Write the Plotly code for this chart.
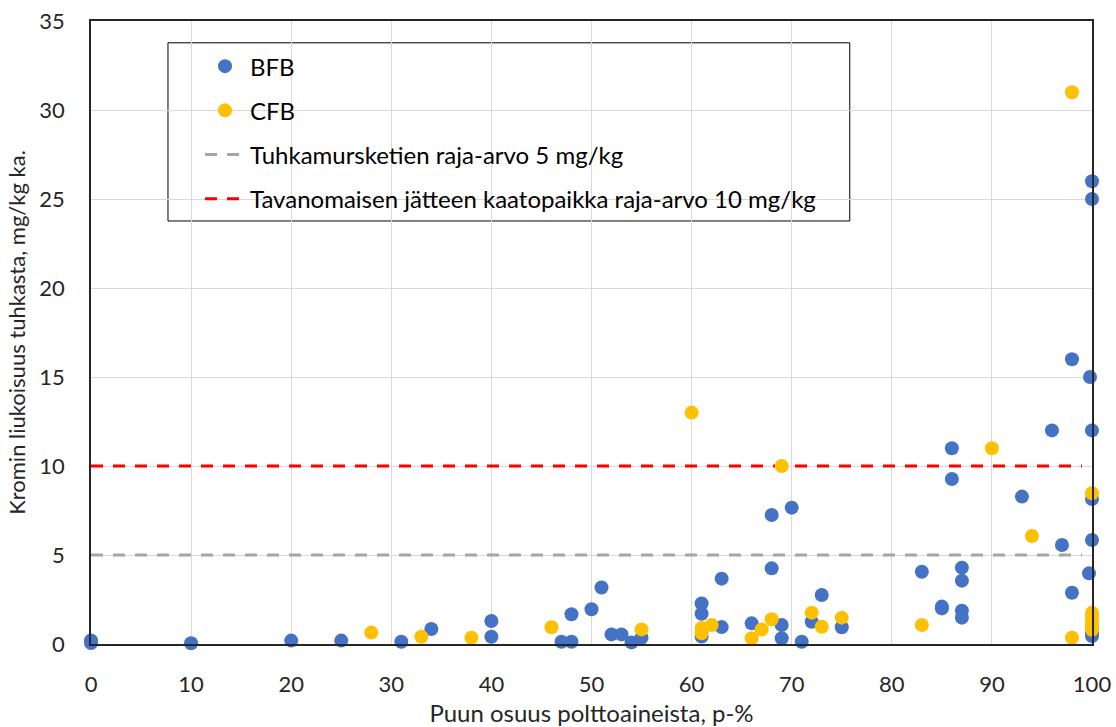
import plotly.graph_objects as go

# --- data ---
bfb_x = [0, 0, 10, 20, 25, 31, 34, 40, 40, 47, 48, 48, 50, 51, 52, 53, 54, 55,
         61, 61, 61, 63, 63, 66, 68, 68, 69, 69, 70, 71, 72, 73, 75, 83, 85, 85,
         86, 86, 87, 87, 87, 87, 93, 96, 97, 98, 98, 99.7, 99.8, 100, 100, 100,
         100, 100, 100, 100]
bfb_y = [0.2, 0.05, 0.04, 0.19, 0.19, 0.13, 0.84, 1.29, 0.41, 0.13, 0.13, 1.67,
         1.95, 3.17, 0.54, 0.54, 0.09, 0.35, 2.28, 1.7, 0.42, 3.67, 0.95, 1.16,
         7.25, 4.25, 1.07, 0.32, 7.66, 0.13, 1.25, 2.75, 0.94, 4.06, 2.0, 2.1,
         11.0, 9.27, 4.29, 3.56, 1.87, 1.48, 8.28, 12.0, 5.56, 16.0, 2.88, 3.97,
         15.0, 26.0, 25.0, 12.0, 8.15, 5.84, 0.6, 0.45]

cfb_x = [28, 33, 38, 46, 55, 60, 61, 61, 62, 66, 67, 68, 69, 72, 73, 75, 83, 90,
         94, 98, 98, 100, 100, 100, 100, 100, 100]
cfb_y = [0.64, 0.41, 0.35, 0.94, 0.82, 13.0, 0.9, 0.6, 1.07, 0.32, 0.82, 1.39,
         10.0, 1.76, 0.97, 1.48, 1.07, 11.0, 6.07, 31.0, 0.35, 8.47, 1.75, 1.5,
         1.25, 1.0, 0.8]

limit_x = [0, 99]
limit5_y = [5, 5]
limit10_y = [10, 10]

names = ["BFB", "CFB", "Tuhkamursketien raja-arvo 5 mg/kg",
         "Tavanomaisen jätteen kaatopaikka raja-arvo 10 mg/kg"]

x_ticks = list(range(0, 101, 10))
y_ticks = list(range(0, 36, 5))

FONT = "Lato"

fig = go.Figure()
fig.add_trace(go.Scatter(x=limit_x, y=limit5_y, mode="lines", name=names[2],
                         line=dict(color="#A5A5A5", width=3, dash="12px,10px"),
                         legendgroup="g3", legendrank=3, hoverinfo="skip"))
fig.add_trace(go.Scatter(x=limit_x, y=limit10_y, mode="lines", name=names[3],
                         line=dict(color="#FF0000", width=3, dash="12px,10px"),
                         legendgroup="g4", legendrank=4, hoverinfo="skip"))
fig.add_trace(go.Scatter(x=bfb_x, y=bfb_y, mode="markers", name=names[0],
                         marker=dict(color="#4472C4", size=14),
                         legendgroup="g1", legendrank=1, cliponaxis=False))
fig.add_trace(go.Scatter(x=cfb_x, y=cfb_y, mode="markers", name=names[1],
                         marker=dict(color="#FFC000", size=14),
                         legendgroup="g2", legendrank=2, cliponaxis=False))

# legend frame
fig.add_shape(type="rect", xref="paper", yref="paper",
              x0=0.0769, x1=0.758, y0=0.679, y1=0.965,
              line=dict(color="#000000", width=1), fillcolor="white", layer="below")

fig.update_layout(
    width=1116, height=727,
    margin=dict(l=91, r=24, t=21, b=83, autoexpand=False),
    paper_bgcolor="white", plot_bgcolor="rgba(0,0,0,0)",
    font=dict(family=FONT, size=22, color="#262626"),
    showlegend=True,
    legend=dict(x=0.1089, y=0.963, xanchor="left", yanchor="top",
                borderwidth=0, bgcolor="rgba(0,0,0,0)",
                font=dict(family=FONT, size=24, color="#000000"),
                tracegroupgap=10, traceorder="grouped", itemwidth=40),
    xaxis=dict(range=[0, 100], tickvals=x_ticks, showgrid=True,
               gridcolor="#D9D9D9", gridwidth=1, zeroline=False,
               showline=True, linecolor="#262626", linewidth=2, mirror=True,
               ticks="", ticklen=0, ticklabelstandoff=20, automargin=False,
               title=dict(text="Puun osuus polttoaineista, p-%",
                          font=dict(family=FONT, size=24), standoff=12)),
    yaxis=dict(range=[0, 35], tickvals=y_ticks, showgrid=True,
               gridcolor="#D9D9D9", gridwidth=1, zeroline=False,
               showline=True, linecolor="#262626", linewidth=1.5, mirror=True,
               ticks="", ticklen=0, ticklabelstandoff=20, automargin=False,
               title=dict(text="Kromin liukoisuus tuhkasta, mg/kg ka.",
                          font=dict(family=FONT, size=22), standoff=8)),
)

fig.write_html("out.html")
